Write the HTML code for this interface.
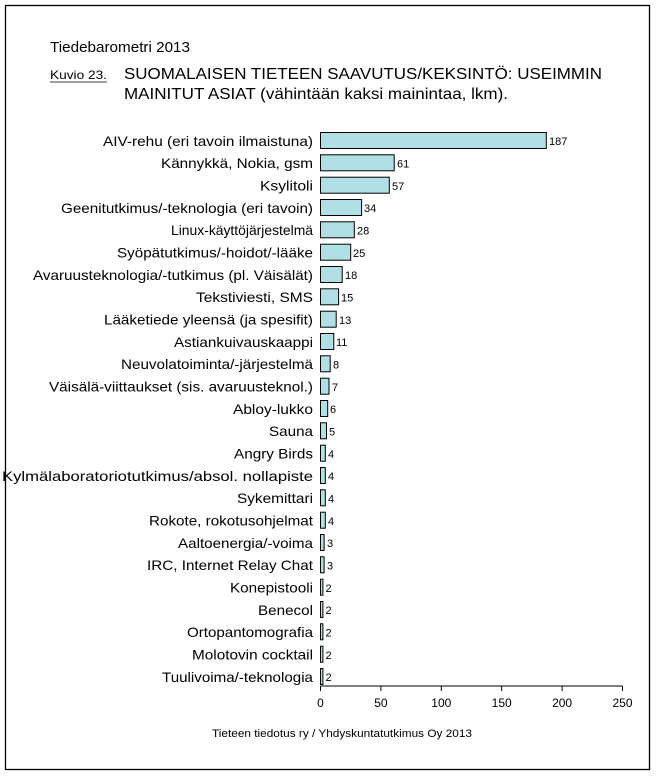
<!DOCTYPE html>
<html><head><meta charset="utf-8"><style>
html,body{margin:0;padding:0;background:#fff;}
svg{display:block;font-family:"Liberation Sans",Arial,sans-serif;}
</style></head><body>
<svg width="656" height="776" viewBox="0 0 656 776" xmlns="http://www.w3.org/2000/svg">
<rect x="0" y="0" width="656" height="776" fill="#fff"/>
<rect x="5.5" y="5.5" width="644" height="764" fill="none" stroke="#000" stroke-width="1.3"/>
<text x="50" y="52" font-size="15" textLength="140" lengthAdjust="spacingAndGlyphs">Tiedebarometri 2013</text>
<text x="50" y="79" font-size="12" textLength="57" lengthAdjust="spacingAndGlyphs">Kuvio 23.</text>
<line x1="50" y1="82" x2="107" y2="82" stroke="#000" stroke-width="0.8"/>
<text x="124" y="79" font-size="16" textLength="478" lengthAdjust="spacingAndGlyphs">SUOMALAISEN TIETEEN SAAVUTUS/KEKSINTÖ: USEIMMIN</text>
<text x="124" y="99" font-size="16" textLength="384" lengthAdjust="spacingAndGlyphs">MAINITUT ASIAT (vähintään kaksi mainintaa, lkm).</text>
<line x1="320.5" y1="686" x2="622.5" y2="686" stroke="#000" stroke-width="1"/>
<g stroke="#000" stroke-width="1">
<line x1="320.5" y1="686" x2="320.5" y2="691"/><line x1="380.9" y1="686" x2="380.9" y2="691"/><line x1="441.3" y1="686" x2="441.3" y2="691"/><line x1="501.7" y1="686" x2="501.7" y2="691"/><line x1="562.1" y1="686" x2="562.1" y2="691"/><line x1="622.5" y1="686" x2="622.5" y2="691"/>
</g>
<g font-size="12" text-anchor="middle">
<text x="320.5" y="707">0</text><text x="380.9" y="707">50</text><text x="441.3" y="707">100</text><text x="501.7" y="707">150</text><text x="562.1" y="707">200</text><text x="622.5" y="707">250</text>
</g>
<text x="212" y="737" font-size="11" textLength="260" lengthAdjust="spacingAndGlyphs">Tieteen tiedotus ry / Yhdyskuntatutkimus Oy 2013</text>
<g font-size="14" lengthAdjust="spacingAndGlyphs">
<text x="103" y="146" textLength="210" lengthAdjust="spacingAndGlyphs">AIV-rehu (eri tavoin ilmaistuna)</text>
<text x="161" y="168" textLength="152" lengthAdjust="spacingAndGlyphs">Kännykkä, Nokia, gsm</text>
<text x="260" y="190.5" textLength="53" lengthAdjust="spacingAndGlyphs">Ksylitoli</text>
<text x="61" y="213" textLength="252" lengthAdjust="spacingAndGlyphs">Geenitutkimus/-teknologia (eri tavoin)</text>
<text x="171" y="235" textLength="142" lengthAdjust="spacingAndGlyphs">Linux-käyttöjärjestelmä</text>
<text x="117" y="257.5" textLength="196" lengthAdjust="spacingAndGlyphs">Syöpätutkimus/-hoidot/-lääke</text>
<text x="33" y="280" textLength="280" lengthAdjust="spacingAndGlyphs">Avaruusteknologia/-tutkimus (pl. Väisälät)</text>
<text x="196" y="302" textLength="117" lengthAdjust="spacingAndGlyphs">Tekstiviesti, SMS</text>
<text x="104" y="324.5" textLength="209" lengthAdjust="spacingAndGlyphs">Lääketiede yleensä (ja spesifit)</text>
<text x="174" y="347" textLength="139" lengthAdjust="spacingAndGlyphs">Astiankuivauskaappi</text>
<text x="121" y="369" textLength="192" lengthAdjust="spacingAndGlyphs">Neuvolatoiminta/-järjestelmä</text>
<text x="49" y="391.5" textLength="264" lengthAdjust="spacingAndGlyphs">Väisälä-viittaukset (sis. avaruusteknol.)</text>
<text x="233" y="414" textLength="80" lengthAdjust="spacingAndGlyphs">Abloy-lukko</text>
<text x="269" y="436" textLength="44" lengthAdjust="spacingAndGlyphs">Sauna</text>
<text x="234" y="458.5" textLength="79" lengthAdjust="spacingAndGlyphs">Angry Birds</text>
<text x="2" y="481" textLength="311" lengthAdjust="spacingAndGlyphs">Kylmälaboratoriotutkimus/absol. nollapiste</text>
<text x="237" y="503" textLength="76" lengthAdjust="spacingAndGlyphs">Sykemittari</text>
<text x="149" y="525.5" textLength="164" lengthAdjust="spacingAndGlyphs">Rokote, rokotusohjelmat</text>
<text x="178" y="548" textLength="135" lengthAdjust="spacingAndGlyphs">Aaltoenergia/-voima</text>
<text x="147" y="570" textLength="166" lengthAdjust="spacingAndGlyphs">IRC, Internet Relay Chat</text>
<text x="230" y="592.5" textLength="83" lengthAdjust="spacingAndGlyphs">Konepistooli</text>
<text x="258" y="615" textLength="55" lengthAdjust="spacingAndGlyphs">Benecol</text>
<text x="187" y="637" textLength="126" lengthAdjust="spacingAndGlyphs">Ortopantomografia</text>
<text x="192" y="659.5" textLength="121" lengthAdjust="spacingAndGlyphs">Molotovin cocktail</text>
<text x="162" y="682" textLength="151" lengthAdjust="spacingAndGlyphs">Tuulivoima/-teknologia</text>
</g>
<g fill="#b0e0e6" stroke="#000" stroke-width="1">
<rect x="320.5" y="132.5" width="225.8" height="16"/>
<rect x="320.5" y="154.8" width="73.7" height="16"/>
<rect x="320.5" y="177.2" width="68.8" height="16"/>
<rect x="320.5" y="199.5" width="41.1" height="16"/>
<rect x="320.5" y="221.8" width="33.8" height="16"/>
<rect x="320.5" y="244.2" width="30.2" height="16"/>
<rect x="320.5" y="266.5" width="21.7" height="16"/>
<rect x="320.5" y="288.8" width="18.1" height="16"/>
<rect x="320.5" y="311.2" width="15.7" height="16"/>
<rect x="320.5" y="333.5" width="13.3" height="16"/>
<rect x="320.5" y="355.8" width="9.7" height="16"/>
<rect x="320.5" y="378.2" width="8.5" height="16"/>
<rect x="320.5" y="400.5" width="7.2" height="16"/>
<rect x="320.5" y="422.8" width="6" height="16"/>
<rect x="320.5" y="445.2" width="4.8" height="16"/>
<rect x="320.5" y="467.5" width="4.8" height="16"/>
<rect x="320.5" y="489.8" width="4.8" height="16"/>
<rect x="320.5" y="512.2" width="4.8" height="16"/>
<rect x="320.5" y="534.5" width="3.6" height="16"/>
<rect x="320.5" y="556.8" width="3.6" height="16"/>
<rect x="320.5" y="579.2" width="2.4" height="16"/>
<rect x="320.5" y="601.5" width="2.4" height="16"/>
<rect x="320.5" y="623.8" width="2.4" height="16"/>
<rect x="320.5" y="646.2" width="2.4" height="16"/>
<rect x="320.5" y="668.5" width="2.4" height="16"/>
</g>
<g font-size="11">
<text x="549" y="145">187</text>
<text x="397" y="167.5">61</text>
<text x="392" y="190">57</text>
<text x="364" y="212">34</text>
<text x="357" y="234.5">28</text>
<text x="353" y="257">25</text>
<text x="345" y="279">18</text>
<text x="341" y="301.5">15</text>
<text x="339" y="324">13</text>
<text x="336" y="346">11</text>
<text x="333" y="368.5">8</text>
<text x="332" y="391">7</text>
<text x="330" y="413">6</text>
<text x="329" y="435.5">5</text>
<text x="328" y="458">4</text>
<text x="328" y="480">4</text>
<text x="328" y="502.5">4</text>
<text x="328" y="525">4</text>
<text x="327" y="547">3</text>
<text x="327" y="569.5">3</text>
<text x="325.5" y="592">2</text>
<text x="325.5" y="614">2</text>
<text x="325.5" y="636.5">2</text>
<text x="325.5" y="659">2</text>
<text x="325.5" y="681">2</text>
</g>
</svg>
</body></html>
